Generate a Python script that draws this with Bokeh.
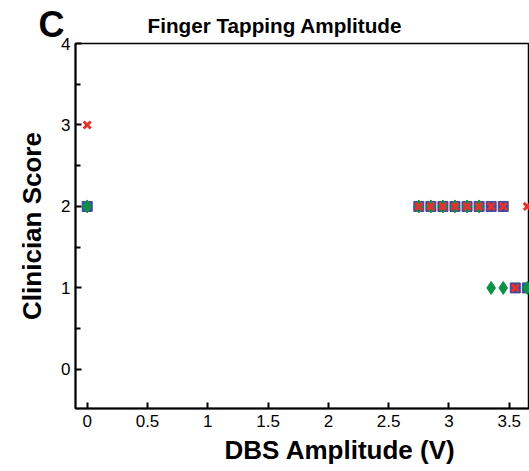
from bokeh.plotting import figure
from bokeh.models import FixedTicker, Range1d, Title
from bokeh.embed import file_html
from bokeh.resources import INLINE

# Data (DBS amplitude in V, clinician score)
sq_x = [0, 2.75, 2.85, 2.95, 3.05, 3.15, 3.25, 3.35, 3.45, 3.55, 3.65]
sq_y = [2, 2, 2, 2, 2, 2, 2, 2, 2, 1, 1]
dia_x = [0, 2.75, 2.85, 2.95, 3.05, 3.15, 3.25, 3.35, 3.45, 3.65]
dia_y = [2, 2, 2, 2, 2, 2, 2, 1, 1, 1]
x_x = [0, 2.75, 2.85, 2.95, 3.05, 3.15, 3.25, 3.35, 3.45, 3.55, 3.65]
x_y = [3, 2, 2, 2, 2, 2, 2, 2, 2, 1, 2]
x_ticks = [0, 0.5, 1, 1.5, 2, 2.5, 3, 3.5]
y_ticks = [0, 1, 2, 3, 4]
y_minor = [-0.5, 0.5, 1.5, 2.5, 3.5]

FONT = "Liberation Sans"

W, H = 529, 468
p = figure(width=W, height=H, output_backend="svg", toolbar_location=None,
           x_range=Range1d(-0.097, 3.668), y_range=Range1d(-0.48, 4.0),
           min_border_left=75, min_border_right=0, min_border_top=43,
           min_border_bottom=H - 408)
p.background_fill_color = "white"
p.border_fill_color = "white"
p.grid.visible = False
p.outline_line_color = "black"
p.outline_line_width = 1.5

p.scatter(sq_x, sq_y, marker="square", size=10, fill_color="#3d4aa0",
          line_color="#3d4aa0")
p.scatter(dia_x, dia_y, marker="diamond", size=13, fill_color="#0f9145",
          line_color="#0f9145")
p.scatter(x_x, x_y, marker="x", size=10, line_color="#e8312b", line_width=3)

for ax in (p.xaxis[0], p.yaxis[0]):
    ax.axis_line_width = 2
    ax.axis_line_color = "black"
    ax.major_tick_in = 6
    ax.major_tick_out = 0
    ax.major_tick_line_width = 2
    ax.minor_tick_in = 5
    ax.minor_tick_out = 0
    ax.minor_tick_line_width = 2
    ax.major_label_text_font = FONT
    ax.major_label_text_font_size = "17px"
    ax.major_label_text_color = "black"
    ax.axis_label_text_font = FONT
    ax.axis_label_text_font_style = "bold"
    ax.axis_label_text_font_size = "26px"
    ax.axis_label_text_color = "black"

p.xaxis.ticker = FixedTicker(ticks=x_ticks)
p.yaxis.ticker = FixedTicker(ticks=y_ticks, minor_ticks=y_minor)
p.xaxis.major_label_standoff = 6
p.yaxis.major_label_standoff = 5
p.yaxis.axis_label = "Clinician Score"
p.yaxis.axis_label_standoff = 11

# panel letter (outermost title) and chart title (nearest the frame)
p.title = Title(text="C", align="left", offset=-37,
                text_font=FONT, text_font_style="bold",
                text_font_size="36px", text_color="black", standoff=-80)
p.add_layout(Title(text="Finger Tapping Amplitude", align="left", offset=72,
                   text_font=FONT, text_font_style="bold",
                   text_font_size="20.7px", text_color="black", standoff=14),
             "above")
p.add_layout(Title(text="DBS Amplitude (V)", align="left", offset=149,
                   text_font=FONT, text_font_style="bold",
                   text_font_size="26px", text_color="black",
                   standoff=7), "below")

open("out.html", "w").write(file_html(p, INLINE))
